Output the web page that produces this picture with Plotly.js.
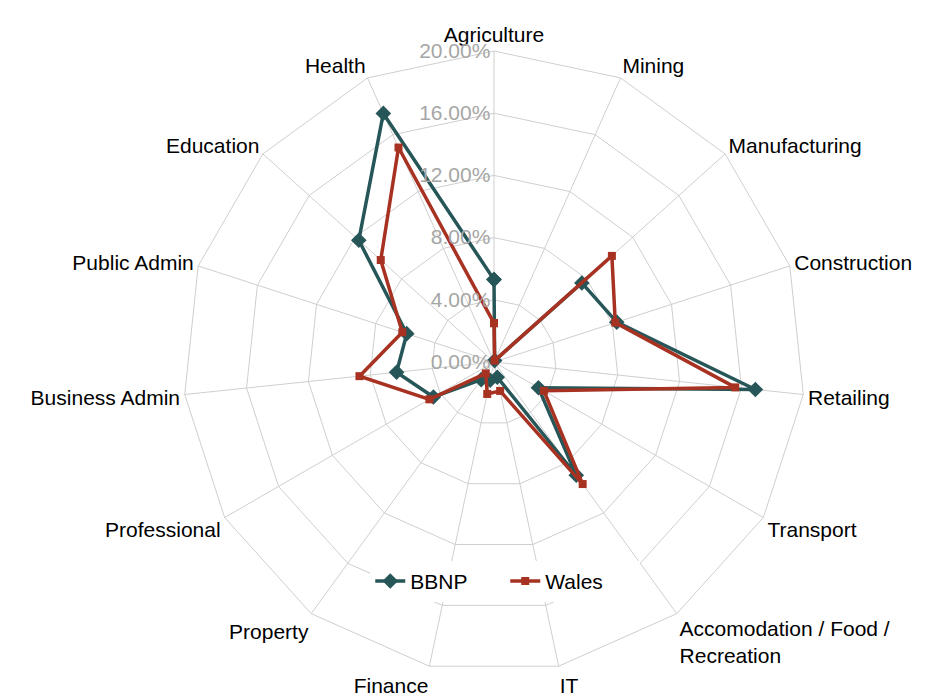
<!DOCTYPE html>
<html>
<head>
<meta charset="utf-8">
<script src="https://cdn.plot.ly/plotly-3.0.1.min.js"></script>
<style>html,body{margin:0;padding:0;background:#fff;}#chart{width:935px;height:697px;}</style>
</head>
<body>
<div id="chart"></div>
<script>
const categories = ["Agriculture","Mining","Manufacturing","Construction","Retailing","Transport","Accomodation / Food /<br>Recreation","IT","Finance","Property","Professional","Business Admin","Public Admin","Education","Health"];
const bbnp = [5.3, 0.1, 7.6, 8.3, 16.9, 3.3, 9.0, 1.0, 1.2, 1.4, 4.5, 6.3, 5.9, 11.7, 17.5];
const wales = [2.5, 0.1, 10.2, 8.2, 15.6, 3.7, 9.7, 1.9, 2.1, 0.9, 4.8, 8.7, 6.2, 9.8, 15.1];
const tickVals = [0, 4, 8, 12, 16, 20];

function closed(arr){ return arr.concat([arr[0]]); }
const thetaClosed = closed(categories);

const traces = [
  {type:'scatterpolar', name:'BBNP', r: closed(bbnp).map(v=>v/100), theta: thetaClosed,
   mode:'lines+markers', line:{color:'#275659', width:3.5},
   marker:{symbol:'diamond', size:12, color:'#275659'}},
  {type:'scatterpolar', name:'Wales', r: closed(wales).map(v=>v/100), theta: thetaClosed,
   mode:'lines+markers', line:{color:'#a83222', width:3.5},
   marker:{symbol:'square', size:8, color:'#a83222'}}
];

const layout = {
  width:935, height:697,
  margin:{l:0,r:0,t:0,b:0},
  paper_bgcolor:'#ffffff',
  font:{family:'"Liberation Sans", Arial, sans-serif', size:21, color:'#000'},
  showlegend:true,
  legend:{orientation:'h', x:0.396, y:0.166, xanchor:'left', yanchor:'middle',
          entrywidth:90, entrywidthmode:'pixels',
          bgcolor:'#ffffff', font:{size:21, color:'#000'}},
  polar:{
    domain:{x:[0.1957,0.8610], y:[0.0344,0.9268]},
    gridshape:'linear',
    bgcolor:'rgba(0,0,0,0)',
    radialaxis:{range:[0,0.2], tickvals:tickVals.map(v=>v/100), tickformat:'.2%',
      angle:90, tickangle:90, side:'counterclockwise', showline:false, ticks:'',
      gridcolor:'#cfcfcf', gridwidth:1,
      tickfont:{size:21, color:'#a6a6a6'}},
    angularaxis:{rotation:90, direction:'clockwise', type:'category',
      categoryarray:categories, ticks:'', showline:true, linecolor:'#cfcfcf', linewidth:1,
      gridcolor:'#cfcfcf', gridwidth:1, tickfont:{size:21, color:'#000'}}
  }
};
Plotly.newPlot('chart', traces, layout, {displayModeBar:false, staticPlot:true});
</script>
</body>
</html>
